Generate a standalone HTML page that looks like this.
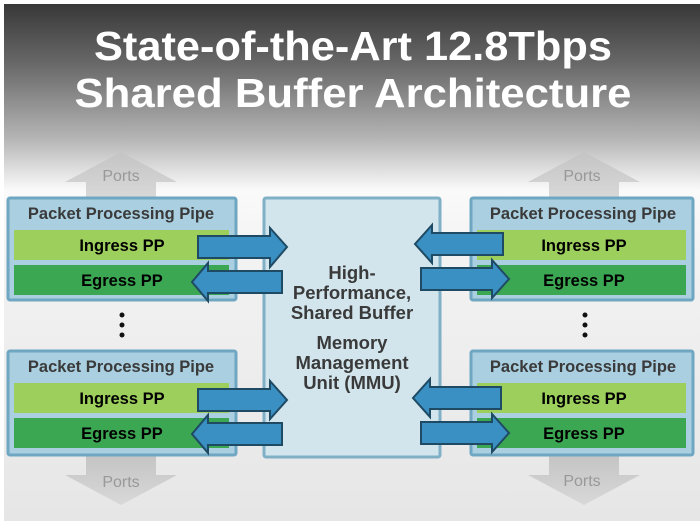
<!DOCTYPE html>
<html><head><meta charset="utf-8"><style>
html,body{margin:0;padding:0;background:#fff}
svg{display:block}
</style></head><body>
<svg width="700" height="521" viewBox="0 0 700 521" xmlns="http://www.w3.org/2000/svg" font-family="Liberation Sans, Arial, sans-serif">
<defs>
<linearGradient id="bg" x1="0" y1="0" x2="0" y2="1">
<stop offset="0" stop-color="#383838"/>
<stop offset="0.12" stop-color="#6a6a6a"/>
<stop offset="0.26" stop-color="#b5b5b5"/>
<stop offset="0.36" stop-color="#fafafa"/>
<stop offset="0.5" stop-color="#f2f2f2"/>
<stop offset="1" stop-color="#e6e6e6"/>
</linearGradient>
<linearGradient id="port" x1="0" y1="0" x2="0" y2="1">
<stop offset="0" stop-color="#c4c4c4"/>
<stop offset="1" stop-color="#d8d8d8"/>
</linearGradient>
</defs>
<rect x="0" y="0" width="700" height="521" fill="#fff"/>
<rect x="4" y="4" width="696" height="517" fill="url(#bg)"/>

<g font-weight="bold" fill="#fff" font-size="41" text-anchor="middle">
<text x="353" y="60" textLength="518" lengthAdjust="spacingAndGlyphs">State-of-the-Art 12.8Tbps</text>
<text x="353" y="107" textLength="557" lengthAdjust="spacingAndGlyphs">Shared Buffer Architecture</text>
</g>

<g fill="url(#port)">
<polygon points="86,197 86,182 65,182 121,152 177,182 156,182 156,197"/>
<polygon points="549,197 549,182 528,182 584,152 640,182 619,182 619,197"/>
<polygon points="86,455 86,475 65,475 121,505 177,475 156,475 156,455"/>
<polygon points="549,455 549,475 528,475 584,505 640,475 619,475 619,455"/>
</g>
<g fill="#999" font-size="16" text-anchor="middle">
<text x="121" y="181">Ports</text>
<text x="582" y="181">Ports</text>
<text x="121" y="487">Ports</text>
<text x="582" y="486">Ports</text>
</g>

<g stroke="#6fa7c2" stroke-width="3" fill="#a9cfe0">
<rect x="8" y="198" width="228" height="102" rx="2"/>
<rect x="8" y="351" width="228" height="104" rx="2"/>
<rect x="471" y="198" width="222" height="102" rx="2"/>
<rect x="471" y="351" width="222" height="104" rx="2"/>
</g>
<g fill="#9ccf5c">
<rect x="14" y="230" width="215" height="30"/>
<rect x="14" y="383" width="215" height="30"/>
<rect x="477" y="230" width="209" height="30"/>
<rect x="477" y="383" width="209" height="30"/>
</g>
<g fill="#3ca752">
<rect x="14" y="265" width="215" height="30"/>
<rect x="14" y="418" width="215" height="30"/>
<rect x="477" y="265" width="209" height="30"/>
<rect x="477" y="418" width="209" height="30"/>
</g>
<g font-weight="bold" font-size="16.5" text-anchor="middle" fill="#3a3a3a">
<text x="121" y="219">Packet Processing Pipe</text>
<text x="121" y="372">Packet Processing Pipe</text>
<text x="583" y="219">Packet Processing Pipe</text>
<text x="583" y="372">Packet Processing Pipe</text>
</g>
<g font-weight="bold" font-size="16.5" text-anchor="middle" fill="#000">
<text x="122" y="251">Ingress PP</text>
<text x="122" y="286">Egress PP</text>
<text x="122" y="404">Ingress PP</text>
<text x="122" y="439">Egress PP</text>
<text x="584" y="251">Ingress PP</text>
<text x="584" y="286">Egress PP</text>
<text x="584" y="404">Ingress PP</text>
<text x="584" y="439">Egress PP</text>
</g>

<g fill="#111">
<circle cx="122" cy="315" r="2.5"/><circle cx="122" cy="325" r="2.5"/><circle cx="122" cy="335" r="2.5"/>
<circle cx="585" cy="315" r="2.5"/><circle cx="585" cy="325" r="2.5"/><circle cx="585" cy="335" r="2.5"/>
</g>

<rect x="264" y="198" width="176" height="259" fill="#d2e5ed" stroke="#7fb0c6" stroke-width="3" rx="2"/>
<g font-weight="bold" font-size="18.5" text-anchor="middle" fill="#3a3a3a">
<text x="352" y="279">High-</text>
<text x="352" y="299">Performance,</text>
<text x="352" y="319">Shared Buffer</text>
<text x="352" y="349">Memory</text>
<text x="352" y="369">Management</text>
<text x="352" y="389">Unit (MMU)</text>
</g>

<g fill="#3a8fc3" stroke="#1f4a63" stroke-width="2" stroke-linejoin="miter">
<polygon points="198,236 270,236 270,228 287,247 270,267 270,258 198,258"/>
<polygon points="282,271 208,271 208,263 192,282 208,301 208,293 282,293"/>
<polygon points="198,389 270,389 270,381 287,400 270,419 270,411 198,411"/>
<polygon points="282,423 208,423 208,415 192,434 208,453 208,445 282,445"/>
<polygon points="503,233 432,233 432,225 415,244 432,263 432,255 503,255"/>
<polygon points="421,268 492,268 492,260 509,279 492,298 492,290 421,290"/>
<polygon points="501,387 430,387 430,379 413,398 430,417 430,409 501,409"/>
<polygon points="421,422 492,422 492,414 509,433 492,452 492,444 421,444"/>
</g>
</svg>
</body></html>
